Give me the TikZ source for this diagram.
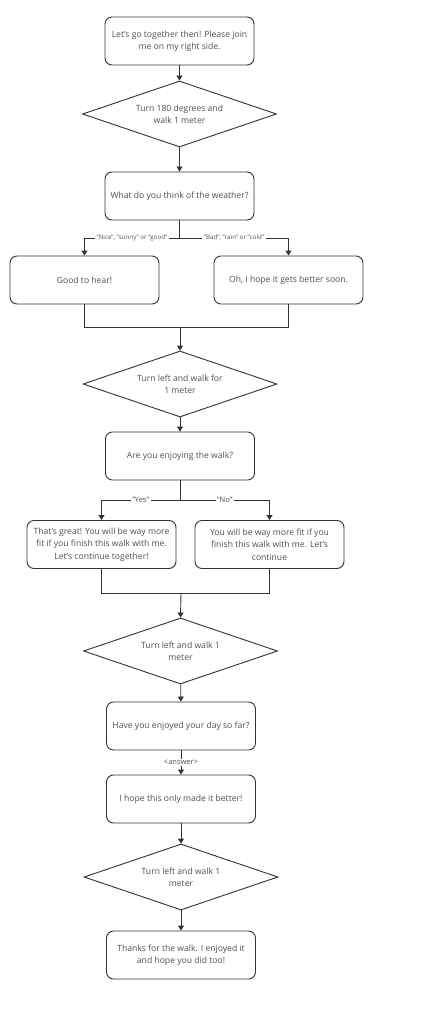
\documentclass[tikz,border=0pt]{standalone}
\usepackage{fontspec}
\setmainfont{Open Sans}
\usetikzlibrary{shapes.geometric,arrows.meta}
\definecolor{linegray}{HTML}{333333}
\definecolor{textgray}{HTML}{505050}
\begin{document}
\begin{tikzpicture}[
    x=1pt, y=-1pt,
    every node/.style={font=\fontsize{8.6}{12.4}\selectfont, text=textgray, align=center},
    box/.style={draw=linegray, line width=0.9pt, rounded corners=7pt,
      minimum width=149pt, minimum height=48pt, inner sep=1pt},
    turn/.style={draw=linegray, line width=0.9pt, diamond, aspect=3,
      minimum width=194pt, minimum height=66pt, inner sep=0pt},
    flow/.style={draw=linegray, line width=0.9pt, -{Triangle[length=5pt,width=6pt]}},
    merge/.style={draw=linegray, line width=0.9pt},
    lab/.style={fill=white, inner sep=1.5pt, font=\fontsize{6.2}{7}\selectfont},
    ]
    \fill[white] (0,0) rectangle (420,1027);
    \node[box] (start) at (179.5,41) {Let's go together then! Please join\\me on my right side.};
    \node[turn] (turnA) at (179.5,114) {Turn 180 degrees and\\walk 1 meter};
    \node[box] (weather) at (179.5,196) {What do you think of the weather?};
    \node[box] (good) at (84.5,280) {Good to hear!};
    \node[box] (hope) at (288.5,280) {Oh, I hope it gets better soon.};
    \node[turn] (turnB) at (180,384) {Turn left and walk for\\1 meter};
    \node[box] (enjoy) at (180,456) {Are you enjoying the walk?};
    \node[box] (great) at (101.5,544.5) {That's great! You will be way more\\fit if you finish this walk with me.\\Let's continue together!};
    \node[box] (fit) at (269.5,544.5) {You will be way more fit if you\\finish this walk with me. Let's\\continue};
    \node[turn] (turnC) at (180.5,651) {Turn left and walk 1\\meter};
    \node[box] (day) at (181,726) {Have you enjoyed your day so far?};
    \node[box] (better) at (181,799) {I hope this only made it better!};
    \node[turn] (turnD) at (181,877) {Turn left and walk 1\\meter};
    \node[box] (thanks) at (181,955) {Thanks for the walk. I enjoyed it\\and hope you did too!};
    \coordinate (splitA) at (179.5,238);
    \coordinate (joinA) at (180,327);
    \coordinate (splitB) at (180,500);
    \coordinate (joinB) at (181,593);

    \draw[flow] (start) -- (turnA);
    \draw[flow] (turnA) -- (weather);
    \draw[merge] (weather.south) -- (splitA);
    \draw[flow] (splitA) -| node[lab, pos=0.25] {"Nice", "sunny" or "good"} (good.north);
    \draw[flow] (splitA) -| node[lab, pos=0.25] {"Bad", "rain" or "cold"} (hope.north);
    \draw[merge] (good.south) |- (joinA);
    \draw[merge] (hope.south) |- (joinA);
    \draw[flow] (joinA) -- (turnB.north);
    \draw[flow] (turnB) -- (enjoy);
    \draw[merge] (enjoy.south) -- (splitB);
    \draw[flow] (splitB) -| node[lab, pos=0.25, font=\fontsize{7.5}{8}\selectfont] {"Yes"} (great.north);
    \draw[flow] (splitB) -| node[lab, pos=0.25, font=\fontsize{7.5}{8}\selectfont] {"No"} (fit.north);
    \draw[merge] (great.south) |- (joinB);
    \draw[merge] (fit.south) |- (joinB);
    \draw[flow] (joinB) -- (turnC.north);
    \draw[flow] (turnC) -- (day);
    \draw[flow] (day) -- node[lab, font=\fontsize{7.5}{8}\selectfont] {<answer>} (better);
    \draw[flow] (better) -- (turnD);
    \draw[flow] (turnD) -- (thanks);
\end{tikzpicture}
\end{document}
